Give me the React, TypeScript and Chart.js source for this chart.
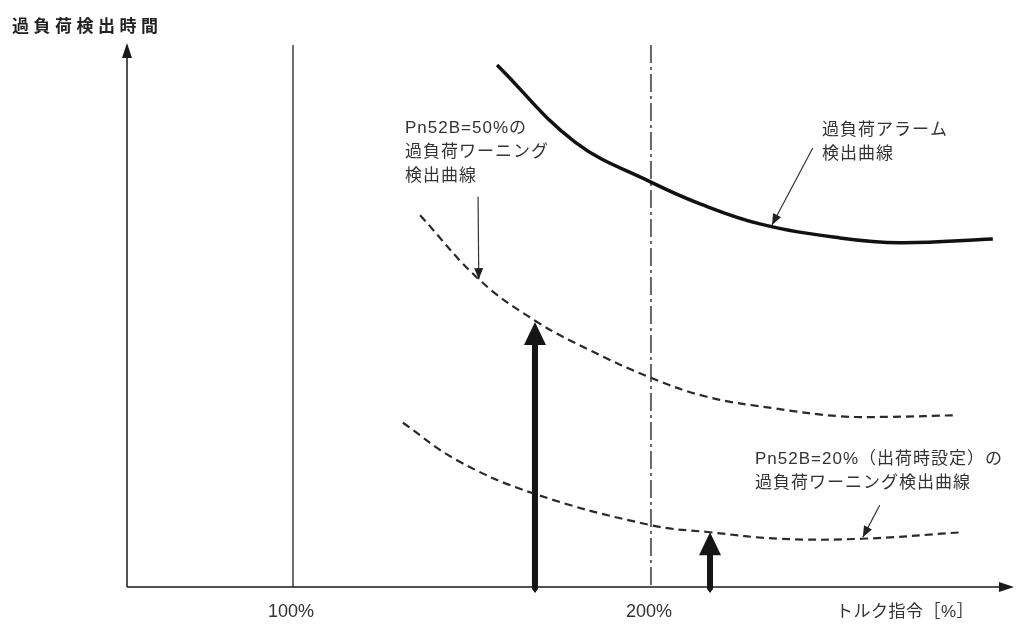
import { useEffect, useRef } from "react";
import { Chart, registerables } from "chart.js";

Chart.register(...registerables);

// ---- scale ranges (torque command %, detection time in relative units) ----
const xMin = 53.63;
const xMax = 300.3;
const yMin = 0;
const yMax = 100;

// ---- reference torque lines & tick labels ----
const referenceLines = [100, 200];
const tickLabels = ["100%", "200%"];
const xAxisTitle = "トルク指令［%］";
const yAxisTitle = "過負荷検出時間";

// ---- overload alarm detection curve ----
const alarmX = [157.0, 178.8, 200.0, 213.7, 230.4, 252.8, 269.6, 295.5];
const alarmY = [96.3, 82.1, 74.7, 70.7, 67.0, 64.4, 63.5, 64.2];

// ---- Pn52B = 50% warning curve ----
const warn50X = [135.5, 152.2, 168.2, 182.9, 200.0, 215.6, 234.1, 252.8, 266.8, 285.5];
const warn50Y = [68.6, 56.6, 48.9, 43.7, 38.6, 35.1, 33.0, 31.5, 31.4, 31.7];

// ---- Pn52B = 20% warning curve ----
const warn20X = [130.7, 145.8, 167.0, 200.0, 216.5, 236.0, 258.9, 286.9];
const warn20Y = [30.3, 23.4, 17.3, 11.4, 10.1, 8.9, 8.9, 10.1];

// ---- thick detection arrows (torque, time where warning is detected) ----
const detectArrowX = [167.6, 216.5];
const detectArrowY = [48.9, 10.1];

// ---- thin callout arrows ----
const calloutFrom50 = [151.7, 72.0];
const calloutTo50 = [151.9, 56.8];
const calloutFromAlarm = [245.2, 81.0];
const calloutToAlarm = [233.8, 66.8];
const calloutFrom20 = [263.9, 15.1];
const calloutTo20 = [259.2, 9.2];

// ---- callout texts ----
const label50 = ["Pn52B=50%の", "過負荷ワーニング", "検出曲線"];
const labelAlarm = ["過負荷アラーム", "検出曲線"];
const label20 = ["Pn52B=20%（出荷時設定）の", "過負荷ワーニング検出曲線"];

const FONT = "'Liberation Sans', 'Noto Sans CJK JP', sans-serif";

const toPts = (xs: number[], ys: number[]) => xs.map((x, i) => ({ x, y: ys[i] }));

function arrowHead(ctx: CanvasRenderingContext2D, fx: number, fy: number, tx: number, ty: number, len: number, half: number) {
  const ang = Math.atan2(ty - fy, tx - fx);
  const bx = tx - len * Math.cos(ang);
  const by = ty - len * Math.sin(ang);
  ctx.beginPath();
  ctx.moveTo(tx, ty);
  ctx.lineTo(bx + half * Math.sin(ang), by - half * Math.cos(ang));
  ctx.lineTo(bx - half * Math.sin(ang), by + half * Math.cos(ang));
  ctx.closePath();
  ctx.fill();
}

const overlay = {
  id: "overlay",
  beforeDatasetsDraw(chart: any) {
    const { ctx, chartArea: a, scales } = chart;
    const x = scales.x;
    ctx.save();
    const p100 = x.getPixelForValue(referenceLines[0]);
    ctx.strokeStyle = "#222";
    ctx.lineWidth = 1.3;
    ctx.beginPath();
    ctx.moveTo(p100, a.top);
    ctx.lineTo(p100, a.bottom);
    ctx.stroke();
    const p200 = x.getPixelForValue(referenceLines[1]);
    ctx.strokeStyle = "#666";
    ctx.lineWidth = 2;
    ctx.setLineDash([18, 4, 3, 4]);
    ctx.beginPath();
    ctx.moveTo(p200, a.top);
    ctx.lineTo(p200, a.bottom);
    ctx.stroke();
    ctx.restore();
  },
  afterDatasetsDraw(chart: any) {
    const { ctx, chartArea: a, scales } = chart;
    const x = scales.x;
    const y = scales.y;
    ctx.save();
    ctx.fillStyle = "#1a1a1a";
    ctx.strokeStyle = "#1a1a1a";

    // axes
    ctx.lineWidth = 1.5;
    ctx.beginPath();
    ctx.moveTo(a.left, a.bottom);
    ctx.lineTo(a.right, a.bottom);
    ctx.moveTo(a.left, a.bottom);
    ctx.lineTo(a.left, a.top + 8);
    ctx.stroke();
    arrowHead(ctx, a.left, a.bottom, a.right + 4, a.bottom, 15, 5);
    arrowHead(ctx, a.left, a.bottom, a.left, a.top - 2, 15, 5);

    // thick detection arrows
    detectArrowX.forEach((dx, i) => {
      const px = x.getPixelForValue(dx);
      const tip = y.getPixelForValue(detectArrowY[i]);
      const bottom = y.getPixelForValue(0);
      ctx.fillStyle = "#151515";
      ctx.beginPath();
      ctx.moveTo(px - 3, tip + 20);
      ctx.lineTo(px + 3, tip + 20);
      ctx.lineTo(px + 3, bottom + 2);
      ctx.lineTo(px, bottom + 6);
      ctx.lineTo(px - 3, bottom + 2);
      ctx.closePath();
      ctx.fill();
      arrowHead(ctx, px, bottom, px, tip, 23, 11);
    });

    // thin callout arrows
    ctx.lineWidth = 1.2;
    ctx.strokeStyle = "#333";
    ctx.fillStyle = "#222";
    const callouts = [
      [calloutFrom50, calloutTo50],
      [calloutFromAlarm, calloutToAlarm],
      [calloutFrom20, calloutTo20],
    ];
    callouts.forEach(([f, t]) => {
      const fx = x.getPixelForValue(f[0]);
      const fy = y.getPixelForValue(f[1]);
      const tx = x.getPixelForValue(t[0]);
      const ty = y.getPixelForValue(t[1]);
      ctx.beginPath();
      ctx.moveTo(fx, fy);
      ctx.lineTo(tx, ty);
      ctx.stroke();
      arrowHead(ctx, fx, fy, tx, ty, 11, 4.5);
    });

    // texts
    ctx.textBaseline = "middle";
    ctx.textAlign = "left";
    ctx.fillStyle = "#222";
    ctx.font = `bold 17px ${FONT}`;
    (ctx as any).letterSpacing = "4.5px";
    ctx.fillText(yAxisTitle, 12, 27);

    ctx.fillStyle = "#333";
    ctx.font = `17px ${FONT}`;
    (ctx as any).letterSpacing = "1px";
    label50.forEach((t, i) => ctx.fillText(t, 405, 128 + i * 24));
    labelAlarm.forEach((t, i) => ctx.fillText(t, 822, 130 + i * 24));
    label20.forEach((t, i) => ctx.fillText(t, 755, 459 + i * 24));

    ctx.font = `18px ${FONT}`;
    (ctx as any).letterSpacing = "0px";
    ctx.textAlign = "center";
    referenceLines.forEach((v, i) => {
      ctx.fillText(tickLabels[i], x.getPixelForValue(v) - 2, 612);
    });
    ctx.textAlign = "left";
    ctx.font = `17px ${FONT}`;
    (ctx as any).letterSpacing = "0.5px";
    ctx.fillText(xAxisTitle, 836, 612);
    ctx.restore();
  },
};

export default function App() {
  const ref = useRef<HTMLCanvasElement | null>(null);
  useEffect(() => {
    if (!ref.current) return;
    const chart = new Chart(ref.current, {
      type: "line",
      data: {
        datasets: [
          {
            label: "過負荷アラーム検出曲線",
            data: toPts(alarmX, alarmY),
            borderColor: "#111",
            borderWidth: 3.5,
            pointRadius: 0,
            tension: 0.4,
            fill: false,
          },
          {
            label: "Pn52B=50%",
            data: toPts(warn50X, warn50Y),
            borderColor: "#2a2a2a",
            borderWidth: 2.2,
            borderDash: [8, 5],
            pointRadius: 0,
            tension: 0.4,
            fill: false,
          },
          {
            label: "Pn52B=20%",
            data: toPts(warn20X, warn20Y),
            borderColor: "#2a2a2a",
            borderWidth: 2.2,
            borderDash: [8, 5],
            pointRadius: 0,
            tension: 0.4,
            fill: false,
          },
        ],
      },
      options: {
        responsive: false,
        animation: false,
        layout: { padding: { left: 127, right: 9, top: 45, bottom: 39 } },
        scales: {
          x: { type: "linear", min: xMin, max: xMax, display: false },
          y: { type: "linear", min: yMin, max: yMax, display: false },
        },
        plugins: { legend: { display: false }, tooltip: { enabled: false } },
      },
      plugins: [overlay],
    } as any);
    return () => chart.destroy();
  }, []);
  return (
    <div style={{ position: "fixed", left: 0, top: 0, width: 1019, height: 626, background: "#fff" }}>
      <canvas ref={ref} width={1019} height={626} />
    </div>
  );
}
